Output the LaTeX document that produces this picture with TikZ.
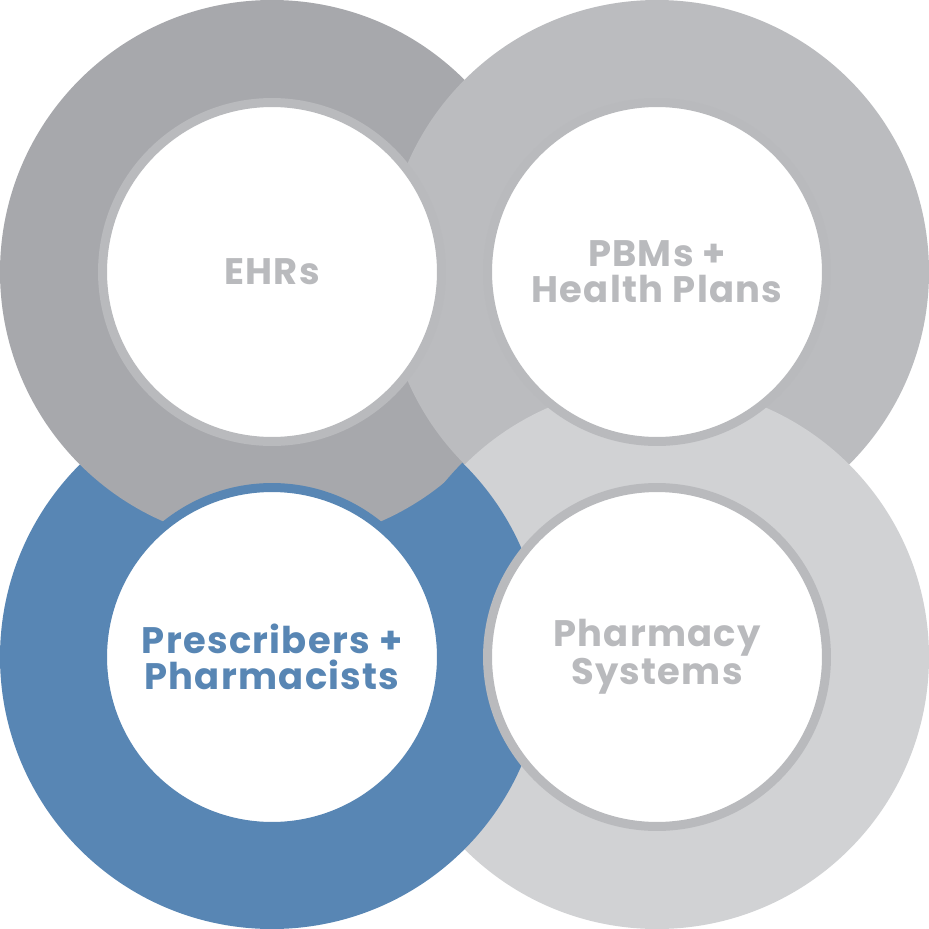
\documentclass[tikz,border=0pt]{standalone}
\usepackage{fontspec}
\setmainfont{Poppins}
\newfontfamily\ringfont{Poppins}[LetterSpace=3.5]
\usepackage{xcolor}
\definecolor{ehrgray}{HTML}{A7A8AC}
\definecolor{pbmgray}{HTML}{BBBCBF}
\definecolor{rxgray}{HTML}{D1D2D4}
\definecolor{docblue}{HTML}{5886B4}
\definecolor{labelgray}{HTML}{B9BABD}

\begin{document}
\begin{tikzpicture}[x=0.02cm,y=-0.02cm,
	hole/.style={circle,fill=white,line width=0.18cm,minimum size=6.78cm,align=center,
		font=\ringfont\fontsize{21}{20.5}\selectfont\bfseries,text=labelgray},
	bighole/.style={hole,draw=labelgray}]
		\useasboundingbox (0,0) rectangle (929,929);
		\coordinate (ehrc) at (272,272);
		\coordinate (pbmc) at (657,272);
		\coordinate (docc) at (272,657);
		\coordinate (rxc) at (657,657);
		% outer rings, chained over one another
		\fill[docblue] (docc) circle (272);
		\fill[ehrgray] (ehrc) circle (272);
		\fill[pbmgray] (pbmc) circle (272);
		\fill[rxgray] (rxc) circle (272);
		\begin{scope}
		\clip (rxc) circle (275);
		\fill[docblue] (docc) circle (272);
		\end{scope}
		% inner discs
		\node (ehr)[bighole] at (ehrc) {EHRs};
		\node (pbm)[bighole] at (pbmc) {PBMs +\\Health Plans};
		\node (doc)[hole,draw=docblue,text=docblue] at (docc) {Prescribers +\\Pharmacists};
		\node (rx)[bighole] at (rxc) {Pharmacy\\Systems};
		\end{tikzpicture}
\end{document}
